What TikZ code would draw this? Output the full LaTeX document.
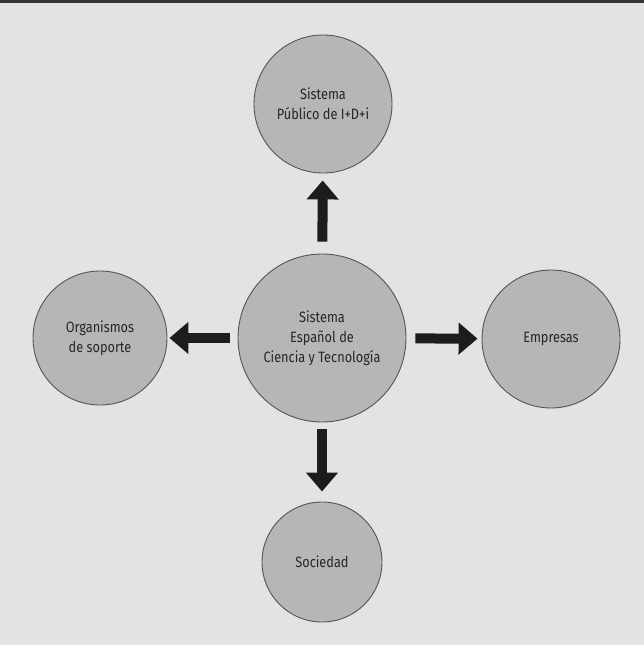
\documentclass[tikz,border=0pt]{standalone}
\usepackage{fontspec}
\setmainfont{Fira Sans}[FakeStretch=0.85]
\usetikzlibrary{arrows.meta}
\definecolor{pagebg}{HTML}{E3E3E3}
\definecolor{circfill}{HTML}{B6B6B6}
\definecolor{circline}{HTML}{555555}
\definecolor{arrowc}{HTML}{1C1C1C}
\tikzset{
  bubble/.style={circle, draw=circline, line width=0.9pt, fill=circfill,
    inner sep=0pt, align=center, font=\fontsize{15}{20}\selectfont, text=black!85},
  bigarrow/.style={draw=arrowc, line width=10pt,
    -{Triangle[width=31pt,length=19pt]}, arrowc}
}
\begin{document}
\begin{tikzpicture}[x=1pt,y=1pt]
  \fill[pagebg] (0,0) rectangle (644,-645);
  \useasboundingbox (0,0) rectangle (644,-645);
  \fill[black!80] (0,0) rectangle (644,-3);
  \node[bubble, minimum size=138pt] (pub) at (323,-104) {Sistema\\Público de I+D+i};
  \node[bubble, minimum size=168pt] (cen) at (322,-338) {Sistema\\Español de\\Ciencia y Tecnología};
  \node[bubble, minimum size=134pt] (org) at (100,-338) {Organismos\\de soporte};
  \node[bubble, minimum size=138pt] (emp) at (551,-339) {Empresas};
  \node[bubble, minimum size=120pt] (soc) at (322,-562) {Sociedad};
  \draw[bigarrow, shorten <=12pt, shorten >=7pt] (cen) -- (pub);
  \draw[bigarrow, shorten <=8pt, shorten >=2pt] (cen) -- (org);
  \draw[bigarrow, shorten <=9pt, shorten >=4pt] (cen) -- (emp);
  \draw[bigarrow, shorten <=7pt, shorten >=10pt] (cen) -- (soc);
\end{tikzpicture}
\end{document}
